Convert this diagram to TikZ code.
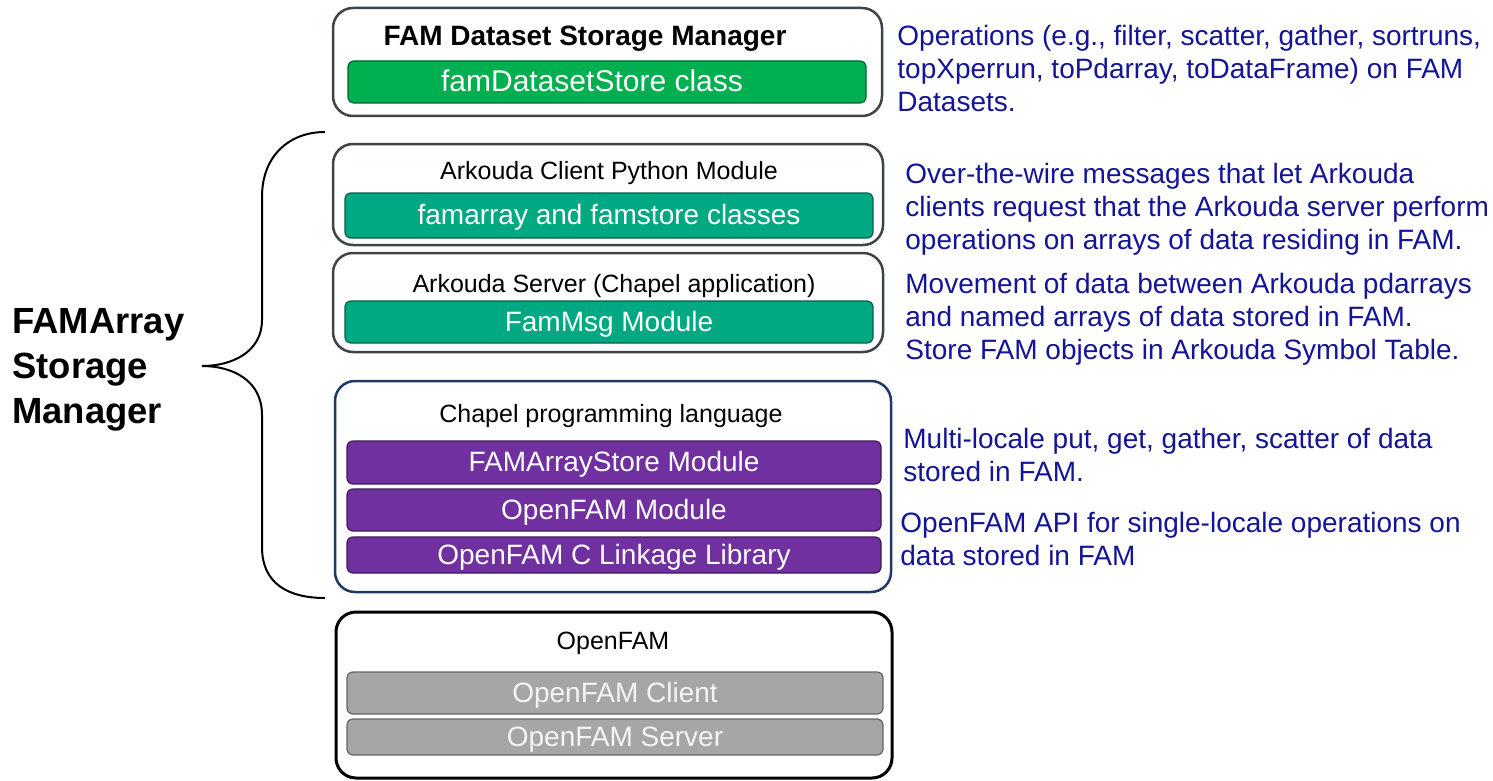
\documentclass[tikz,border=0pt]{standalone}
\usepackage{fontspec}
\setmainfont{Liberation Sans}
\usetikzlibrary{positioning}

\definecolor{famgreen}{HTML}{00B050}
\definecolor{famteal}{HTML}{01A982}
\definecolor{fampurple}{HTML}{7030A0}
\definecolor{famgray}{HTML}{A6A6A6}
\definecolor{famblue}{RGB}{20,20,150}
\definecolor{famnavy}{HTML}{1F3864}
\definecolor{famframe}{HTML}{3F4449}

\begin{document}
\begin{tikzpicture}[x=0.5pt,y=-0.5pt,
	layer/.style 2 args={draw=famframe, line width=1.25pt, rounded corners=10pt,
		minimum width=#1pt, minimum height=#2pt, inner sep=0pt},
	title/.style={inner sep=0pt, text height=.92em, text depth=0pt,
		font=\fontsize{12.5}{15}\selectfont},
	bar/.style={rounded corners=3pt, line width=.6pt, text=white, inner sep=0pt,
		text height=.92em, text depth=0pt, font=\fontsize{14}{16}\selectfont},
	greenbar/.style={bar, fill=famgreen, draw=famgreen!55!black},
	tealbar/.style={bar, fill=famteal, draw=famteal!55!black},
	purplebar/.style={bar, fill=fampurple, draw=fampurple!55!black},
	graybar/.style={bar, fill=famgray, draw=famgray!60!black, text=white!96!black},
	note/.style={anchor=north west, inner sep=0pt, align=left, text=famblue,
		font=\fontsize{14}{16.5}\selectfont}
]
\useasboundingbox (0,0) rectangle (1493,781);

%% FAM dataset layer
\node[layer={274.5}{54}] (ds) at (607.5,62) {};
\node[title, font=\bfseries\fontsize{14}{16}\selectfont] (dstitle) at (585,36) {FAM Dataset Storage Manager};
\node[greenbar, minimum width=259pt, minimum height=21pt] (dsbar) at (607,82) {};
\node[bar] (dsbartext) at (592,82) {\fontsize{15}{17}\selectfont famDatasetStore class};

%% Arkouda layers
\node[layer={275}{50.5}] (client) at (608,194.5) {};
\node[title] (clienttitle) at (609,170) {Arkouda Client Python Module};
\node[tealbar, minimum width=264pt, minimum height=22.5pt] (clientbar) at (609,215.5) {famarray and famstore classes};

\node[layer={275}{49.5}] (server) at (608,302.5) {};
\node[title] (servertitle) at (614,283) {Arkouda Server (Chapel application)};
\node[tealbar, minimum width=264pt, minimum height=21pt] (serverbar) at (609,322) {FamMsg Module};

%% Chapel layer
\node[layer={278}{105.5}, draw=famnavy] (chapel) at (613,486.5) {};
\node[title] (chapeltitle) at (611,413) {Chapel programming language};
\node[purplebar, minimum width=267pt, minimum height=21.5pt] (store) at (614,462.5) {FAMArrayStore Module};
\node[purplebar, minimum width=267pt, minimum height=21pt] (module) at (614,510) {OpenFAM Module};
\node[purplebar, minimum width=267pt, minimum height=18pt] (linkage) at (614,555) {OpenFAM C Linkage Library};

%% OpenFAM layer
\node[layer={278}{83}, draw=black, line width=1.5pt] (openfam) at (614,695) {};
\node[title] (openfamtitle) at (613,640) {OpenFAM};
\node[graybar, minimum width=268pt, minimum height=21pt] (famclient) at (615,693) {OpenFAM Client};
\node[graybar, minimum width=268pt, minimum height=18pt] (famserver) at (615,737) {OpenFAM Server};

%% Brace and its label
\coordinate (tip) at (202,366);
\draw[line width=1pt] (325,132) .. controls (290,132) and (262,155) .. (262,197)
	-- (262,320) .. controls (262,352) and (232,366) .. (tip)
	.. controls (232,366) and (262,380) .. (262,415)
	-- (262,547) .. controls (262,585) and (290,598) .. (325,598);
\node[anchor=north west, inner sep=0pt, align=left,
	font=\bfseries\fontsize{18.2}{22.5}\selectfont] (famarray) at (12,308)
	{FAMArray\\Storage\\Manager};

%% Descriptions
\node[note] (n1) at (897,25) {Operations (e.g., filter, scatter, gather, sortruns,\\topXperrun, toPdarray, toDataFrame) on FAM\\Datasets.};
\node[note] (n2) at (905,162.5) {Over-the-wire messages that let Arkouda\\clients request that the Arkouda server perform\\operations on arrays of data residing in FAM.};
\node[note] (n3) at (905,272.5) {Movement of data between Arkouda pdarrays\\and named arrays of data stored in FAM.\\Store FAM objects in Arkouda Symbol Table.};
\node[note] (n4) at (903,427.5) {Multi-locale put, get, gather, scatter of data\\stored in FAM.};
\node[note] (n5) at (900,511.5) {OpenFAM API for single-locale operations on\\data stored in FAM};

\end{tikzpicture}
\end{document}
